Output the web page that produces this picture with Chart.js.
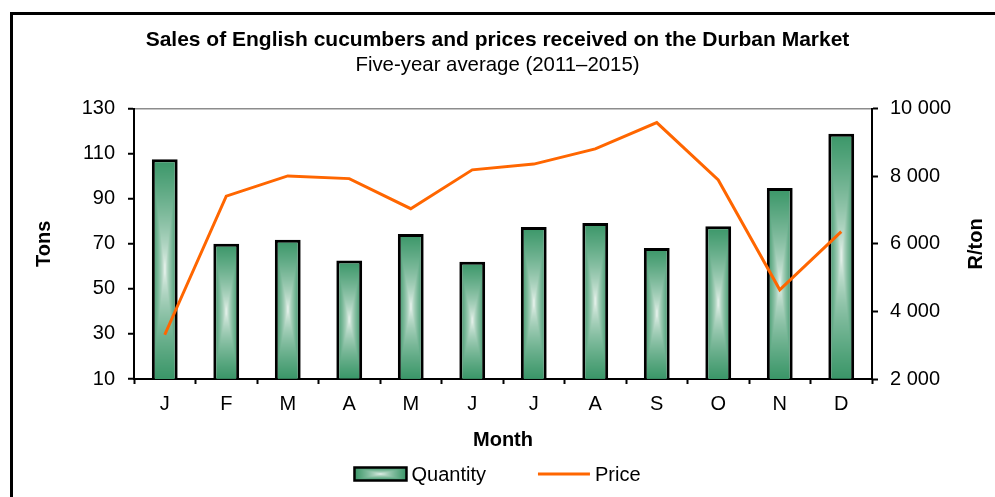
<!DOCTYPE html>
<html>
<head>
  <title>English cucumbers - Durban Market</title>
  <script src="https://cdn.jsdelivr.net/npm/chart.js"></script>
  <style>
    body { margin: 0; background: #fff; overflow: hidden; }
    #wrap { position: relative; width: 995px; height: 497px; }
    #frame {
      position: absolute; left: 10px; top: 12px; width: 2000px; height: 2000px;
      border-left: 3px solid #000; border-top: 3px solid #000; pointer-events: none;
    }
  </style>
</head>
<body>
  <div id="wrap">
    <canvas id="chart" width="995" height="497"></canvas>
    <div id="frame"></div>
  </div>

  <script>
    const months = ["J", "F", "M", "A", "M", "J", "J", "A", "S", "O", "N", "D"];
    const quantity = [107.6, 70, 71.8, 62.6, 74.4, 62, 77.5, 79.3, 68.2, 77.8, 94.8, 118.9];
    const price = [3310, 7410, 8010, 7930, 7040, 8190, 8360, 8810, 9590, 7890, 4640, 6360];
    const tonsAxis = [10, 130, 20];      // min, max, step
    const priceAxis = [2000, 10000, 2000];

    const GREEN = [58, 150, 104];
    const LIGHT = [246, 250, 247];
    const ORANGE = "#ff6600";
    const FONT = '"Liberation Sans", Arial, sans-serif';

    Chart.defaults.color = "#000";
    Chart.defaults.font.family = FONT;
    Chart.defaults.font.size = 20;

    // Excel style "from centre" fill: white middle fading out to green edges
    function rectFill(ctx, x, y, w, h) {
      const cw = Math.max(1, Math.round(w)), ch = Math.max(1, Math.round(h));
      const off = document.createElement("canvas");
      off.width = cw; off.height = ch;
      const octx = off.getContext("2d");
      const img = octx.createImageData(cw, ch);
      for (let j = 0; j < ch; j++) {
        for (let i = 0; i < cw; i++) {
          const dx = Math.abs(i + 0.5 - cw / 2) / (cw / 2);
          const dy = Math.abs(j + 0.5 - ch / 2) / (ch / 2);
          const t = Math.pow(Math.max(dx, dy), 0.65);
          const k = (j * cw + i) * 4;
          for (let c = 0; c < 3; c++) img.data[k + c] = LIGHT[c] + (GREEN[c] - LIGHT[c]) * t;
          img.data[k + 3] = 255;
        }
      }
      octx.putImageData(img, 0, 0);
      const pat = ctx.createPattern(off, "no-repeat");
      pat.setTransform(new DOMMatrix().translateSelf(x, y));
      return pat;
    }

    function barFill(c) {
      const chart = c.chart;
      const solid = "rgb(" + GREEN.join(",") + ")";
      if (c.type !== "data" || !chart.chartArea) return solid;
      const xs = chart.scales.x, ys = chart.scales.y;
      const w = xs.width / months.length * 0.42;
      const cx = xs.getPixelForValue(c.dataIndex);
      const top = ys.getPixelForValue(c.raw);
      const bottom = ys.getPixelForValue(ys.min);
      return rectFill(chart.ctx, cx - w / 2, top, w, bottom - top);
    }

    // legend drawn by hand so the two entries can sit far apart like the original,
    // plus the right axis title, which reads bottom-to-top in the original
    const extras = {
      id: "extras",
      afterDraw(chart) {
        const ctx = chart.ctx;
        const boxW = 52, boxH = 13, gap = 5, spacing = 52;
        ctx.save();
        ctx.font = "20px " + FONT;
        const items = chart.data.datasets.map(ds => ({
          ds, w: boxW + gap + ctx.measureText(ds.label).width
        }));
        const total = items.reduce((s, it) => s + it.w, 0) + spacing * (items.length - 1);
        let x = (chart.width - total) / 2;
        const y = chart.height - 23;
        items.forEach(it => {
          if (it.ds.type === "line") {
            ctx.strokeStyle = it.ds.borderColor;
            ctx.lineWidth = it.ds.borderWidth;
            ctx.beginPath();
            ctx.moveTo(x, y);
            ctx.lineTo(x + boxW, y);
            ctx.stroke();
          } else {
            ctx.fillStyle = rectFill(ctx, x, y - boxH / 2, boxW, boxH);
            ctx.fillRect(x, y - boxH / 2, boxW, boxH);
            ctx.strokeStyle = "#000";
            ctx.lineWidth = 2.5;
            ctx.strokeRect(x, y - boxH / 2, boxW, boxH);
          }
          ctx.fillStyle = "#000";
          ctx.textBaseline = "middle";
          ctx.textAlign = "left";
          ctx.fillText(it.ds.label, x + boxW + gap, y + 1);
          x += it.w + spacing;
        });

        const s = chart.scales.y1;
        ctx.font = "bold 20px " + FONT;
        ctx.textAlign = "center";
        ctx.translate(s.right - 19, (s.top + s.bottom) / 2);
        ctx.rotate(-Math.PI / 2);
        ctx.fillText("R/ton", 0, 0);
        ctx.restore();
      }
    };

    const chart = new Chart(document.getElementById("chart"), {
      data: {
        labels: months,
        datasets: [
          {
            type: "bar", label: "Quantity", data: quantity, yAxisID: "y", order: 2,
            backgroundColor: barFill, borderColor: "#000", borderWidth: 3,
            borderSkipped: false, barPercentage: 0.42, categoryPercentage: 1
          },
          {
            type: "line", label: "Price", data: price, yAxisID: "y1", order: 1,
            borderColor: ORANGE, backgroundColor: ORANGE, borderWidth: 3,
            pointRadius: 0, tension: 0, fill: false
          }
        ]
      },
      options: {
        responsive: false,
        animation: false,
        layout: { padding: { top: 13, left: 0, right: 0, bottom: 45 } },
        plugins: {
          legend: { display: false },
          tooltip: { enabled: false },
          title: {
            display: true,
            text: "Sales of English cucumbers and prices received on the Durban Market",
            color: "#000",
            font: { size: 21, weight: "bold" },
            padding: { top: 15, bottom: 0 }
          },
          subtitle: {
            display: true,
            text: "Five-year average (2011\u20132015)",
            color: "#000",
            font: { size: 20.4 },
            padding: { top: 0, bottom: 31 }
          }
        },
        scales: {
          x: {
            afterFit: s => { s.height = 73; },
            grid: { drawOnChartArea: false, tickLength: 5, tickColor: "#000", tickWidth: 2 },
            border: { color: "#000", width: 2 },
            ticks: { padding: 8, maxRotation: 0 },
            title: { display: true, text: "Month", font: { weight: "bold" }, padding: { top: 0, bottom: 0 } }
          },
          y: {
            position: "left",
            min: tonsAxis[0], max: tonsAxis[1],
            afterFit: s => { s.width = 134; },
            grid: {
              color: c => c.tick && c.tick.value === tonsAxis[1] ? "#8c8c8c" : "rgba(0,0,0,0)",
              lineWidth: 1.5, tickLength: 6, tickColor: "#000", tickWidth: 2
            },
            border: { color: "#000", width: 2 },
            ticks: { stepSize: tonsAxis[2], padding: 13 },
            title: { display: true, text: "Tons", font: { weight: "bold" }, padding: { top: 32, bottom: 0 } }
          },
          y1: {
            position: "right",
            min: priceAxis[0], max: priceAxis[1],
            afterFit: s => { s.width = 123; },
            grid: { drawOnChartArea: false, tickLength: 6, tickColor: "#000", tickWidth: 2 },
            border: { color: "#000", width: 2 },
            ticks: {
              stepSize: priceAxis[2], padding: 12,
              callback: v => String(v).replace(/\B(?=(\d{3})+(?!\d))/g, " ")
            },
            title: { display: false }
          }
        }
      },
      plugins: [extras]
    });
  </script>
</body>
</html>
